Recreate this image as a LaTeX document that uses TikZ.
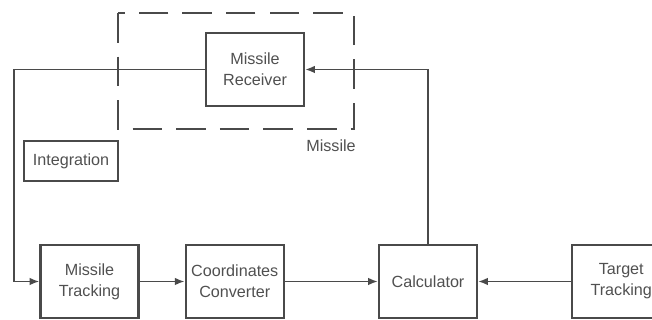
\documentclass[tikz,border=0pt]{standalone}
\usepackage{fontspec}
\setmainfont{Liberation Sans}
\usetikzlibrary{arrows.meta,positioning}

\definecolor{ink}{HTML}{4A4A4A}
\definecolor{txt}{HTML}{505050}

\begin{document}
\begin{tikzpicture}[
  box/.style={
    draw=ink,
    line width=1.6pt,
    align=center,
    text=txt,
    font=\fontsize{11.5}{15}\selectfont,
    inner sep=2pt,
    minimum width=2.45cm,
    minimum height=1.825cm
  },
  line/.style={-{Latex[length=7pt,width=5.5pt]},draw=ink,line width=1.3pt}
]
\useasboundingbox (0,0) rectangle (16.3,8);

% missile group
\draw[ink,line width=2pt,dash pattern=on 21pt off 10pt] (2.95,7.675) rectangle (8.85,4.775);
\node[text=txt,font=\fontsize{11.5}{15}\selectfont] (grp) at (8.275,4.35) {Missile};

\node[box] (rcv) at (6.375,6.263) {Missile\\Receiver};
\node[box,minimum width=2.35cm,minimum height=1cm] (integ) at (1.775,3.975) {Integration};

% bottom row
\node[box] (mtrack) at (2.2375,0.9625) {Missile\\Tracking};
\node[box,right=1.125cm of mtrack] (conv) {Coordinates\\Converter};
\node[box,right=2.325cm of conv] (calc) {Calculator};
\node[box,right=2.325cm of calc] (target) {Target\\Tracking};

\coordinate (lft) at (0.35,6.263);

\draw[line] (rcv.west) -- (lft) |- (mtrack.west);
\draw[line] (mtrack) -- (conv);
\draw[line] (conv) -- (calc);
\draw[line] (target) -- (calc);
\draw[line] (calc.north) |- (rcv.east);
\end{tikzpicture}
\end{document}
